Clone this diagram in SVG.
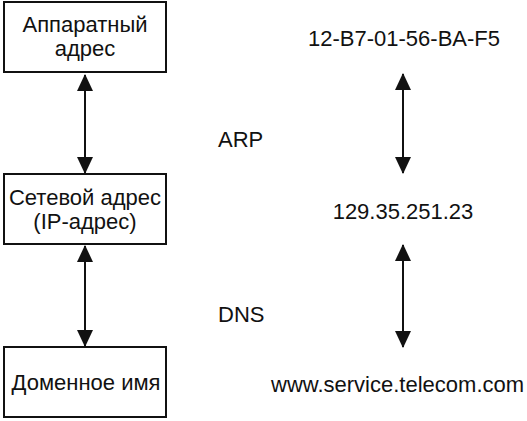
<svg xmlns="http://www.w3.org/2000/svg" width="527" height="421" viewBox="0 0 527 421">
<style>
.box{fill:#fff;stroke:#111;stroke-width:2}
.t{font-family:"Liberation Sans",Arial,sans-serif;fill:#111}
.l{font-size:22px;text-anchor:middle}
.r{font-size:22px}
.c{stroke:#111;stroke-width:2;fill:none;marker-start:url(#ah);marker-end:url(#ah)}
</style>
<defs>
<marker id="ah" viewBox="0 0 17 18" refX="16" refY="8" markerWidth="17" markerHeight="18" markerUnits="userSpaceOnUse" orient="auto-start-reverse">
<path d="M0,0 L17,8 L0,16 Z" fill="#111"/>
</marker>
</defs>
<rect width="527" height="421" fill="#fff"/>
<g id="hw">
<rect class="box" x="4" y="2" width="162" height="70"/>
<text class="t l" x="85" y="32">Аппаратный</text>
<text class="t l" x="85" y="56">адрес</text>
</g>
<g id="net">
<rect class="box" x="4" y="174" width="162" height="70"/>
<text class="t l" x="85" y="205" font-size="21">Сетевой адрес</text>
<text class="t l" x="85" y="229" font-size="21">(IP-адрес)</text>
</g>
<g id="dom">
<rect class="box" x="4" y="347" width="162" height="70"/>
<text class="t l" x="86" y="390">Доменное имя</text>
</g>
<g id="labels">
<text class="t r" x="308" y="46">12-B7-01-56-BA-F5</text>
<text class="t r" x="218" y="147">ARP</text>
<text class="t r" x="403" y="219" text-anchor="middle">129.35.251.23</text>
<text class="t r" x="218" y="322">DNS</text>
<text class="t r" x="271" y="392">www.service.telecom.com</text>
</g>
<g id="connectors">
<line class="c" x1="85" y1="75" x2="85" y2="173"/>
<line class="c" x1="85" y1="246" x2="85" y2="346"/>
<line class="c" x1="403" y1="74" x2="403" y2="173"/>
<line class="c" x1="403" y1="245" x2="403" y2="347"/>
</g>
</svg>
